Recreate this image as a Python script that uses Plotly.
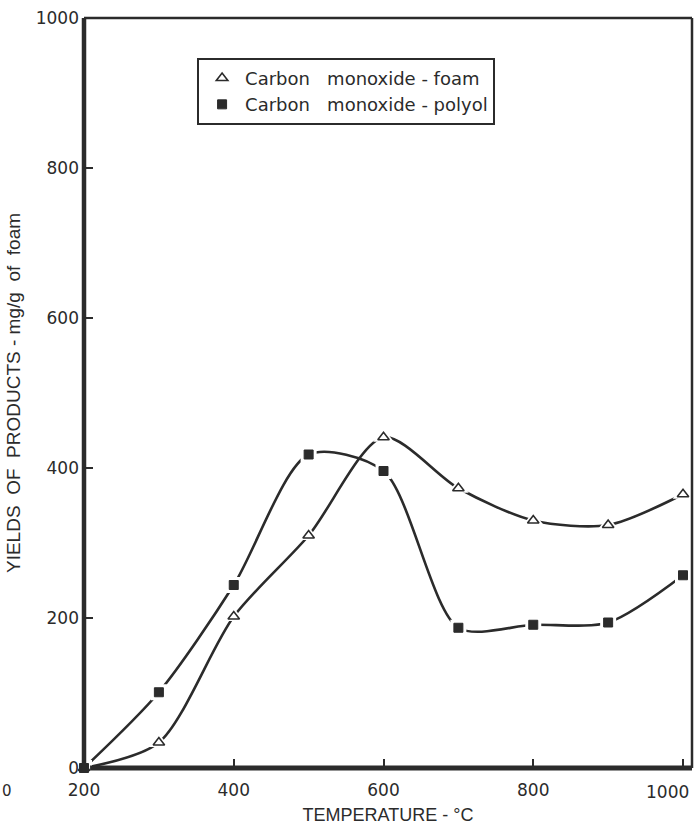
import plotly.graph_objects as go

temps = [200, 300, 400, 500, 600, 700, 800, 900, 1000]
co_foam = [0, 34, 202, 310, 441, 373, 330, 324, 365]
co_polyol = [0, 101, 244, 418, 396, 187, 191, 194, 257]

x_ticks = [200, 400, 600, 800, 1000]
y_ticks = [0, 200, 400, 600, 800, 1000]

ink = "#2b2b2b"
font_family = "DejaVu Sans"
title_family = "Liberation Sans"
NB = "\u00a0"

x_ticktext = [str(v) for v in x_ticks]
last_label = x_ticktext[-1]
x_ticktext[-1] = ""  # drawn below as an annotation, set just left of its tick as in the scan

fig = go.Figure()

# smooth curves
for ys in (co_foam, co_polyol):
    fig.add_trace(go.Scatter(
        x=temps, y=ys, mode="lines",
        line=dict(color=ink, width=2.6, shape="spline", smoothing=0.8),
        showlegend=False, hoverinfo="skip", cliponaxis=False))

# white halos that leave gaps in the line around each symbol
fig.add_trace(go.Scatter(
    x=temps, y=co_foam, mode="markers",
    marker=dict(symbol="triangle-up", size=18, color="white", line=dict(width=0)),
    showlegend=False, hoverinfo="skip", cliponaxis=False))
fig.add_trace(go.Scatter(
    x=temps, y=co_polyol, mode="markers",
    marker=dict(symbol="square", size=16, color="white", line=dict(width=0)),
    showlegend=False, hoverinfo="skip", cliponaxis=False))

# symbols
fig.add_trace(go.Scatter(
    x=temps, y=co_foam, mode="markers",
    name="Carbon" + NB * 3 + "monoxide" + NB + "-" + NB + "foam",
    marker=dict(symbol="triangle-up", size=10, color="white", line=dict(color=ink, width=1.6)),
    cliponaxis=False))
fig.add_trace(go.Scatter(
    x=temps, y=co_polyol, mode="markers",
    name="Carbon" + NB * 3 + "monoxide" + NB + "-" + NB + "polyol",
    marker=dict(symbol="square", size=9, color=ink, line=dict(color=ink, width=1)),
    cliponaxis=False))

fig.update_layout(
    width=696, height=825,
    margin=dict(l=84, r=4, t=18, b=57),
    paper_bgcolor="white", plot_bgcolor="white",
    font=dict(family=font_family, size=16, color=ink),
    showlegend=True,
    legend=dict(
        x=0.186, y=0.947, xanchor="left", yanchor="top",
        bgcolor="white", bordercolor=ink, borderwidth=2,
        font=dict(family=font_family, size=18, color=ink),
        itemwidth=36,
    ),
    xaxis=dict(
        range=[200, 1012], tickvals=x_ticks, ticktext=x_ticktext,
        ticks="inside", ticklen=9, tickwidth=1.5, tickcolor=ink,
        showgrid=False, zeroline=False, showline=False, automargin=False,
        ticklabelstandoff=10,
        tickfont=dict(family=font_family, size=17, color=ink),
        title=dict(text="TEMPERATURE" + NB + "-" + NB + "°C", standoff=12,
                   font=dict(family=title_family, size=18, color=ink)),
    ),
    yaxis=dict(
        range=[0, 1000], tickvals=y_ticks, ticktext=[str(v) for v in y_ticks],
        ticks="inside", ticklen=9, tickwidth=1.5, tickcolor=ink,
        showgrid=False, zeroline=False, showline=False, automargin=False,
        ticklabelstandoff=4,
        tickfont=dict(family=font_family, size=17, color=ink),
        title=dict(text="YIELDS" + NB * 2 + "OF" + NB * 2 + "PRODUCTS" + NB + "-" + NB
                   + "mg/g" + NB * 2 + "of" + NB * 2 + "foam",
                   standoff=10,
                   font=dict(family=title_family, size=19, color=ink)),
    ),
)

# last x tick label, right-aligned at the frame edge
fig.add_annotation(
    text=last_label, xref="x", yref="paper", x=x_ticks[-1], y=0,
    xanchor="right", yanchor="top", xshift=8, yshift=-12, showarrow=False,
    font=dict(family=font_family, size=17, color=ink))

# frame: heavy left/bottom, lighter top/right
fig.add_shape(type="line", xref="paper", yref="paper", x0=0, x1=0, y0=0, y1=1,
              line=dict(color=ink, width=4.5))
fig.add_shape(type="line", xref="paper", yref="paper", x0=0.01, x1=1, y0=0, y1=0,
              line=dict(color=ink, width=5))
fig.add_shape(type="line", xref="paper", yref="paper", x0=0, x1=1, y0=1, y1=1,
              line=dict(color=ink, width=2.5))
fig.add_shape(type="line", xref="paper", yref="paper", x0=1, x1=1, y0=0, y1=1,
              line=dict(color=ink, width=2.5))

# stray partial label at bottom-left of the scan
fig.add_annotation(
    text="0", xref="paper", yref="paper", x=-0.138, y=-0.03,
    xanchor="left", yanchor="middle", showarrow=False,
    font=dict(family=font_family, size=15, color=ink))

fig.write_html("out.html", config={"displayModeBar": False},
               post_script="document.body.style.margin='0px';")
